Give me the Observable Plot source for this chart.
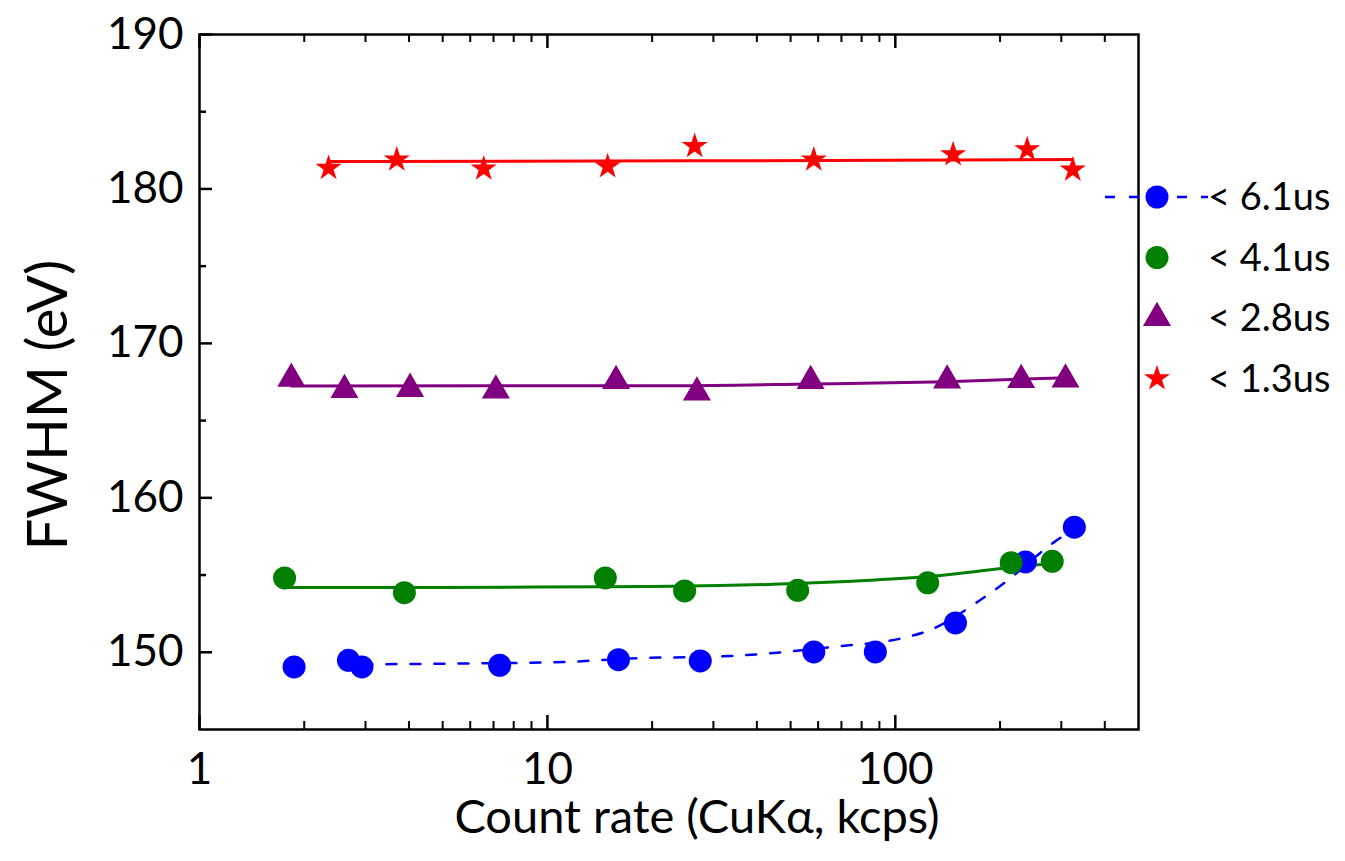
<!DOCTYPE html>
<html>
<head>
<meta charset="utf-8">
<script src="https://cdn.jsdelivr.net/npm/d3@7"></script>
<script src="https://cdn.jsdelivr.net/npm/@observablehq/plot@0.6"></script>
<style>
  html, body { margin: 0; padding: 0; background: #fff; }
  #wrap { position: relative; width: 1345px; height: 861px; font-family: Lato, "Open Sans", sans-serif; color: #000; }
  #legend { position: absolute; left: 0; top: 0; pointer-events: none; }
</style>
</head>
<body>
<div id="wrap"></div>
<script>
// ---- Series names / styles ----
const seriesNames = ["< 6.1us", "< 4.1us", "< 2.8us", "< 1.3us"];
const seriesColors = ["#0000ff", "#008000", "#800080", "#ff0000"];
const seriesSymbols = ["circle", "circle", "triangle", "star"];

// ---- Measured points (count rate kcps, FWHM eV) ----
const rate61 = [1.87, 2.68, 2.93, 7.29, 16.0, 27.5, 58.3, 87.6, 148.9, 236.6, 327];
const fwhm61 = [149.05, 149.48, 149.05, 149.16, 149.52, 149.44, 150.02, 150.02, 151.9, 155.85, 158.1];

const rate41 = [1.756, 3.88, 14.67, 24.8, 52.4, 123.9, 215.3, 282.5];
const fwhm41 = [154.81, 153.86, 154.81, 153.97, 154.01, 154.5, 155.8, 155.89];

const rate28 = [1.836, 2.61, 4.03, 7.11, 15.75, 26.9, 57.1, 140.9, 230, 308.4];
const fwhm28 = [167.72, 166.98, 167.06, 166.96, 167.57, 166.82, 167.57, 167.61, 167.63, 167.67];

const rate13 = [2.35, 3.69, 6.56, 14.9, 26.5, 58.3, 146.6, 239.3, 323.6];
const fwhm13 = [181.35, 181.89, 181.31, 181.46, 182.77, 181.89, 182.23, 182.56, 181.24];

// ---- Fit curves ----
const fitRate61 = [2.94, 6.0, 11.11, 17.32, 33.57, 66.4, 105.5, 124.5, 173.4, 204.6, 284.9, 327];
const fitFwhm61 = [149.22, 149.28, 149.37, 149.6, 149.76, 150.35, 150.93, 151.4, 153.3, 154.45, 157.1, 158.0];

const fitRate41 = [1.756, 5, 15, 23, 52, 75, 124, 180, 215, 282.5];
const fitFwhm41 = [154.2, 154.2, 154.25, 154.27, 154.45, 154.6, 154.9, 155.3, 155.5, 155.75];

const fitRate28 = [1.84, 10, 23, 57, 141, 308];
const fitFwhm28 = [167.24, 167.26, 167.26, 167.37, 167.52, 167.78];

const fitRate13 = [2.35, 26, 150, 323.6];
const fitFwhm13 = [181.78, 181.82, 181.87, 181.9];

// ---- Axis ticks ----
const xMajorTicks = [1, 10, 100];
const xMinorTicks = [2,3,4,5,6,7,8,9,20,30,40,50,60,70,80,90,200,300,400];
const yMajorTicks = [150, 160, 170, 180, 190];
const yMinorTicks = [155, 165, 175, 185];

const xLabel = "Count rate (CuKα, kcps)";
const yLabel = "FWHM (eV)";

// ---- Build tables ----
const zip = (xs, ys) => xs.map((x, i) => ({x, y: ys[i]}));
const pts = [zip(rate61, fwhm61), zip(rate41, fwhm41), zip(rate28, fwhm28), zip(rate13, fwhm13)];
const fits = [zip(fitRate61, fitFwhm61), zip(fitRate41, fitFwhm41), zip(fitRate28, fitFwhm28), zip(fitRate13, fitFwhm13)];
const symbolR = {circle: 11.5, triangle: 10.4, star: 8.2};

const W = 1345, H = 861, mL = 199, mR = 207, mT = 34, mB = 132;
const pw = W - mL - mR, ph = H - mT - mB;

const marks = [];
// ticks (inward)
marks.push(Plot.ruleY(yMajorTicks, {stroke: "black", strokeWidth: 2.5, insetRight: pw - 13}));
marks.push(Plot.ruleY(yMinorTicks, {stroke: "black", strokeWidth: 2.5, insetRight: pw - 7}));
marks.push(Plot.ruleX(xMajorTicks, {stroke: "black", strokeWidth: 2.5, insetTop: ph - 14}));
marks.push(Plot.ruleX(xMinorTicks, {stroke: "black", strokeWidth: 2, insetTop: ph - 8}));
marks.push(Plot.ruleX(xMajorTicks, {stroke: "black", strokeWidth: 2.5, insetBottom: ph - 14}));
marks.push(Plot.ruleX(xMinorTicks, {stroke: "black", strokeWidth: 2, insetBottom: ph - 8}));
// axes labels
marks.push(Plot.axisX({ticks: xMajorTicks, tickSize: 0, tickPadding: 23, fontSize: 44, label: null, tickFormat: d => String(d)}));
marks.push(Plot.axisY({ticks: yMajorTicks, tickSize: 0, tickPadding: 16, fontSize: 44, label: null}));
// fit lines
fits.forEach((f, i) => {
  marks.push(Plot.line(f, {x: "x", y: "y", stroke: seriesColors[i], strokeWidth: i === 0 ? 2.5 : 3,
    strokeDasharray: i === 0 ? "10,14" : null, curve: "monotone-x"}));
});
// points
pts.forEach((p, i) => {
  marks.push(Plot.dot(p, {x: "x", y: "y", fill: seriesColors[i], stroke: "none",
    symbol: seriesSymbols[i], r: symbolR[seriesSymbols[i]]}));
});
marks.push(Plot.frame({stroke: "black", strokeWidth: 2.5}));
marks.push(Plot.text([xLabel], {frameAnchor: "bottom", textAnchor: "middle", lineAnchor: "middle",
  dx: 28, dy: 88, fontSize: 47, fill: "black"}));
marks.push(Plot.text([yLabel], {frameAnchor: "left", textAnchor: "middle", lineAnchor: "middle",
  rotate: -90, dx: -150, dy: 23, fontSize: 56, fill: "black"}));

const chart = Plot.plot({
  width: W, height: H,
  marginLeft: mL, marginRight: mR, marginTop: mT, marginBottom: mB,
  style: {fontFamily: "Lato, 'Open Sans', sans-serif", color: "black", background: "white", overflow: "visible"},
  x: {type: "log", domain: [1, 500]},
  y: {domain: [145, 190]},
  marks
});
const wrap = document.getElementById("wrap");
wrap.appendChild(chart);

// ---- Legend overlay ----
const legendX = 1157, legendTextX = 1208, legendY0 = 197, legendStep = 60.5;
const lg = d3.select(wrap).append("svg").attr("id", "legend").attr("width", W).attr("height", H);
const symMap = {circle: d3.symbolCircle, triangle: d3.symbolTriangle, star: d3.symbolStar};
seriesNames.forEach((name, i) => {
  const y = legendY0 + i * legendStep;
  const g = lg.append("g");
  if (i === 0) {
    g.append("line").attr("x1", 1105).attr("x2", legendTextX).attr("y1", y).attr("y2", y)
      .attr("stroke", seriesColors[i]).attr("stroke-width", 2.5).attr("stroke-dasharray", "10,14");
  }
  const r = symbolR[seriesSymbols[i]];
  g.append("path").attr("transform", `translate(${legendX},${y})`)
    .attr("d", d3.symbol(symMap[seriesSymbols[i]], Math.PI * r * r)())
    .attr("fill", seriesColors[i]);
  g.append("text").attr("x", legendTextX).attr("y", y).attr("dy", "0.35em")
    .attr("font-size", 38).attr("font-family", "Lato, 'Open Sans', sans-serif").attr("fill", "black")
    .text(name);
});
</script>
</body>
</html>
